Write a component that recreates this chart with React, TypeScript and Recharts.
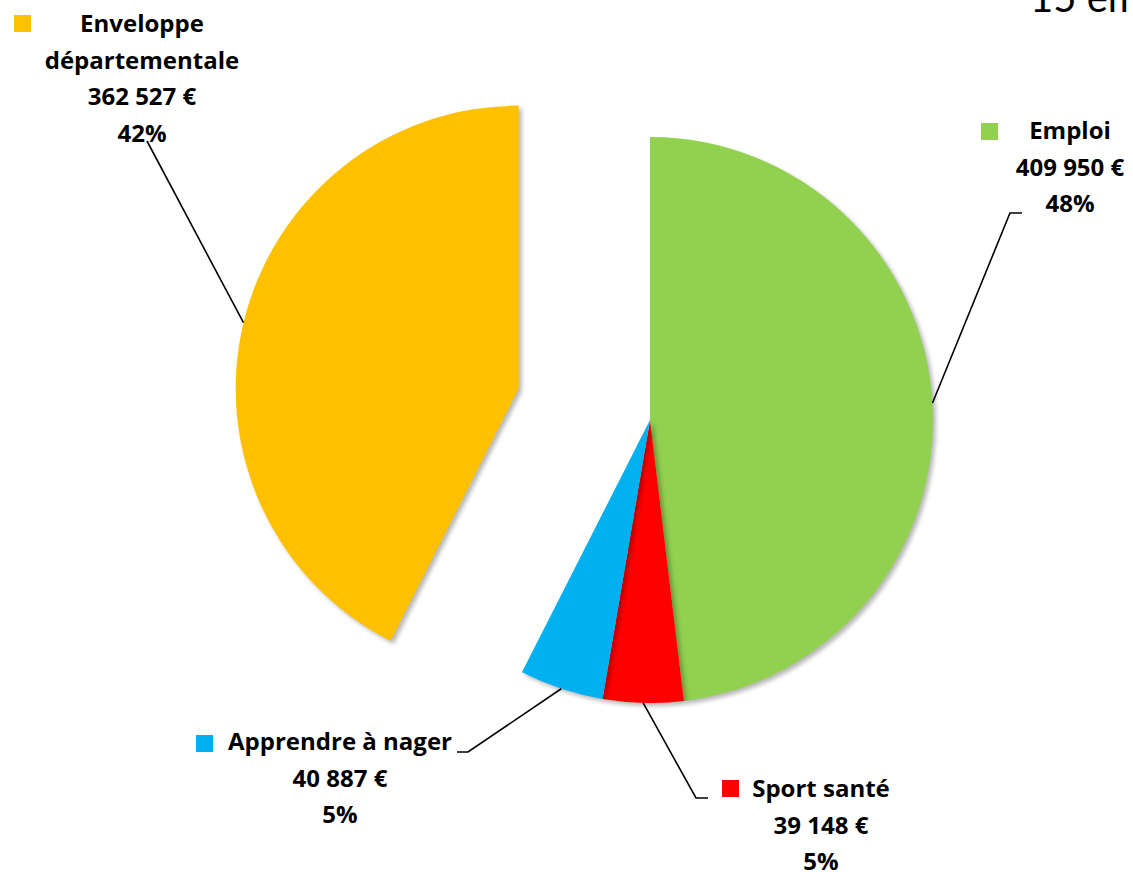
import { PieChart, Pie, Cell } from 'recharts'

const categories = ['Emploi', 'Sport santé', 'Apprendre à nager', 'Enveloppe départementale']
const amounts = [409950, 39148, 40887, 362527]
// shares as printed on the original labels
const shares = [48, 5, 5, 42]
const colors = ['#92D050', '#FF0000', '#00B0F0', '#FFC000']

// the yellow slice is pulled out of the pie
const explodedIndex = 3

const W = 1133
const H = 872
const CX = 650
const CY = 420
const R = 283
const EXPLODE = 135
const FONT = '"Open Sans", Lato, sans-serif'
const FS = 24
const STEP = 36.5

// label boxes were placed by hand in the original, so they are here too
const labelLayout = [
  { x: 1070, y: 139, key: [981, 123], elbow: [1010, 213], end: [1022, 213], wrap: false },
  { x: 821, y: 797, key: [722, 780], elbow: [696, 798], end: [708, 798], wrap: false },
  { x: 340, y: 750, key: [196, 735], elbow: [468, 752], end: [457, 752], wrap: false },
  { x: 142, y: 32, key: [14, 15], elbow: null, end: [147, 141], wrap: true },
]

const data = categories.map((name, i) => ({ name, value: amounts[i] }))

const total = amounts.reduce((a, b) => a + b, 0)
const before = amounts.slice(0, explodedIndex).reduce((a, b) => a + b, 0)
const midFrac = (before + amounts[explodedIndex] / 2) / total
const midRad = midFrac * 2 * Math.PI
const ex = CX + EXPLODE * Math.sin(midRad)
const ey = CY - EXPLODE * Math.cos(midRad)

const money = (v: number) => String(v).replace(/\B(?=(\d{3})+(?!\d))/g, ' ') + ' €'

const RAD = Math.PI / 180

const makeLabel = (owned: (i: number) => boolean) => (props: any) => {
  const { cx, cy, midAngle, outerRadius, index, value } = props
  if (!owned(index)) return null
  const lay = labelLayout[index]
  const sx = cx + outerRadius * Math.cos(-midAngle * RAD)
  const sy = cy + outerRadius * Math.sin(-midAngle * RAD)
  const pts = [[sx, sy]]
  if (lay.elbow) pts.push(lay.elbow)
  pts.push(lay.end)
  const nameLines = lay.wrap ? categories[index].split(' ') : [categories[index]]
  const lines = [...nameLines, money(value), `${shares[index]}%`]
  return (
    <g key={`lbl-${index}`}>
      <polyline
        points={pts.map((p) => p.join(',')).join(' ')}
        fill="none"
        stroke="#000"
        strokeWidth={1.6}
      />
      <rect x={lay.key[0]} y={lay.key[1]} width={17} height={17} fill={colors[index]} />
      {lines.map((t, k) => (
        <text
          key={k}
          x={lay.x}
          y={lay.y + k * STEP}
          textAnchor="middle"
          fontFamily={FONT}
          fontWeight={700}
          fontSize={FS}
          fill="#000"
        >
          {t}
        </text>
      ))}
    </g>
  )
}

export default function App() {
  return (
    <div style={{ position: 'absolute', left: 0, top: 0, width: W, height: H, overflow: 'hidden', background: '#fff' }}>
      <style>{`.recharts-pie-sector path { filter: drop-shadow(3px 3px 2px rgba(0,0,0,0.28)); }`}</style>
      <div
        style={{
          position: 'absolute', left: 1030, top: -23, fontFamily: 'Lato, sans-serif', fontSize: 40,
          color: '#000', whiteSpace: 'nowrap', lineHeight: '40px',
        }}
      >
        15 emplois
      </div>
      <PieChart width={W} height={H} margin={{ top: 0, right: 0, bottom: 0, left: 0 }}>
        <Pie
          data={data}
          dataKey="value"
          nameKey="name"
          cx={CX}
          cy={CY}
          outerRadius={R}
          startAngle={90}
          endAngle={-270}
          stroke="none"
          labelLine={false}
          label={makeLabel((i) => i !== explodedIndex)}
          isAnimationActive={false}
        >
          {data.map((d, i) => (
            <Cell key={d.name} fill={i === explodedIndex ? 'none' : colors[i]} />
          ))}
        </Pie>
        <Pie
          data={data}
          dataKey="value"
          nameKey="name"
          cx={ex}
          cy={ey}
          outerRadius={R}
          startAngle={90}
          endAngle={-270}
          stroke="none"
          labelLine={false}
          label={makeLabel((i) => i === explodedIndex)}
          isAnimationActive={false}
        >
          {data.map((d, i) => (
            <Cell key={d.name} fill={i === explodedIndex ? colors[i] : 'none'} />
          ))}
        </Pie>
      </PieChart>
    </div>
  )
}
